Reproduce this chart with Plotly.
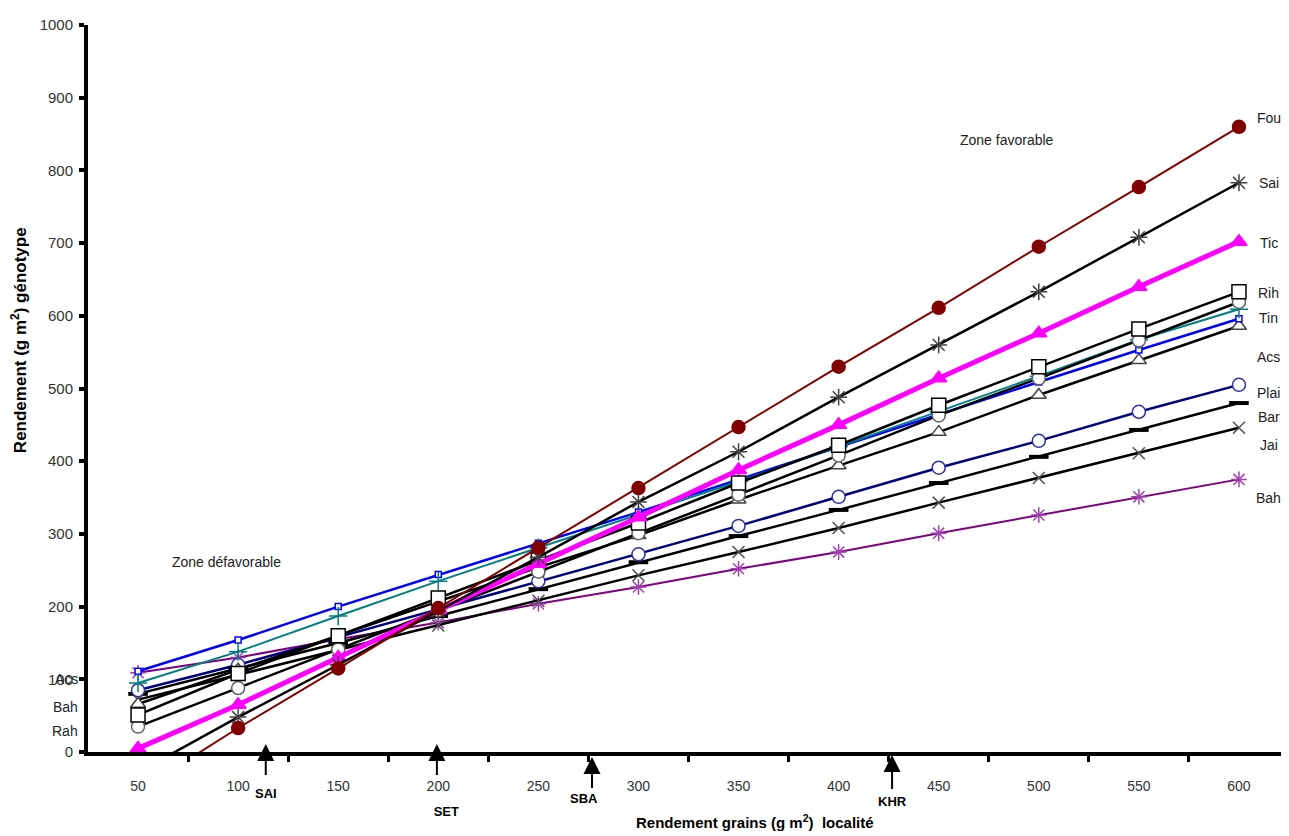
import plotly.graph_objects as go

# ---------------- data ----------------
x_localite = [50, 100, 150, 200, 250, 300, 350, 400, 450, 500, 550, 600]

fou = [-54, 33, 115, 198, 281, 363, 447, 530, 611, 695, 777, 860]
sai = [-28, 48, 120, 194, 268, 344, 413, 488, 560, 633, 708, 783]
tic = [5, 65, 130, 195, 259, 323, 388, 450, 514, 576, 640, 702]
rih = [51, 108, 160, 212, 264, 315, 370, 422, 477, 530, 582, 633]
rah = [35, 88, 141, 195, 248, 301, 354, 408, 463, 514, 566, 619]
tin = [95, 138, 187, 235, 281, 326, 372, 420, 468, 517, 567, 609]
bleu = [111, 154, 200, 244, 287, 330, 375, 420, 465, 509, 553, 596]
acs = [66, 113, 160, 207, 254, 298, 347, 394, 440, 491, 539, 586]
plai = [85, 120, 158, 196, 235, 272, 311, 351, 391, 428, 468, 505]
bar = [80, 115, 150, 187, 224, 261, 297, 333, 370, 406, 443, 480]
jai = [72, 106, 140, 174, 208, 243, 275, 308, 343, 377, 411, 446]
bah = [109, 130, 155, 178, 204, 227, 252, 275, 301, 326, 351, 375]

x_ticks = [50, 100, 150, 200, 250, 300, 350, 400, 450, 500, 550, 600]
y_ticks = [0, 100, 200, 300, 400, 500, 600, 700, 800, 900, 1000]

right_labels = ["Fou", "Sai", "Tic", "Rih", "Tin", "Acs", "Plai", "Bar", "Jai", "Bah"]
right_label_y = [872, 783, 700, 631, 597, 543, 494, 461, 422, 349]
left_labels = ["Acs", "Bah", "Rah"]
left_label_y = [100, 62, 29]

sites = ["SAI", "SET", "SBA", "KHR"]
site_x = [113.8, 199.3, 276.8, 426.7]

FONT = "Liberation Sans, Arial, sans-serif"

fig = go.Figure()

def add(y, name, lc, lw, sym, msize, mcolor, mfill, mlw=1.5):
    fig.add_trace(go.Scatter(
        x=x_localite, y=y, name=name, mode="lines+markers",
        line=dict(color=lc, width=lw),
        marker=dict(symbol=sym, size=msize, color=mfill,
                    line=dict(color=mcolor, width=mlw)),
        showlegend=False, hoverinfo="x+y+name"))

add(bah, "Bah", "#800080", 2, "asterisk-open", 13, "#A040B0", "#A040B0")
add(jai, "Jai", "#000000", 2.5, "x-thin-open", 12, "#505050", "#505050")
add(bar, "Bar", "#000000", 2.5, "line-ew-open", 14, "#000000", "#000000", 4)
add(plai, "Plai", "#000080", 2.5, "circle", 13, "#3030A0", "#FFFFFF")
add(acs, "Acs", "#000000", 2.5, "triangle-up", 13, "#404040", "#FFFFFF")
add(bleu, "Bleu", "#0000FF", 2.5, "square", 6, "#0000FF", "#FFFFFF")
add(tin, "Tin", "#008080", 2, "cross-thin-open", 13, "#008080", "#008080")
add(rah, "Rah", "#000000", 2.5, "circle", 13, "#606060", "#FFFFFF")
add(rih, "Rih", "#000000", 2.5, "square", 14, "#000000", "#FFFFFF")
add(tic, "Tic", "#FF00FF", 5, "triangle-up", 14, "#FF00FF", "#FF00FF")
add(sai, "Sai", "#000000", 2.5, "asterisk-open", 14, "#404040", "#404040")
add(fou, "Fou", "#800000", 2, "circle", 13, "#800000", "#800000")

ann = []
for lab, yy in zip(right_labels, right_label_y):
    ann.append(dict(x=615, y=yy, xref="x", yref="y", text=lab, showarrow=False,
                    font=dict(family=FONT, size=14, color="#222222"),
                    xanchor="center", yanchor="middle"))
for lab, yy in zip(left_labels, left_label_y):
    ann.append(dict(x=-0.0067, y=yy / 1000.0, xref="paper", yref="paper", text=lab,
                    showarrow=False, font=dict(family=FONT, size=14, color="#222222"),
                    xanchor="right", yanchor="middle"))

# site labels with upward arrows pointing at the x axis
tip_y = [0.011, 0.011, -0.0069, -0.0041]
lab_dy = [49, 67, 41, 47]
start_off = [9, 27, 1, 4]
box_w = [None, 44, 44, None]
box_align = ["center", "right", "left", "center"]
for s, sx, ty, dy, so, bw, al in zip(sites, site_x, tip_y, lab_dy, start_off, box_w, box_align):
    d = dict(x=sx, y=ty, xref="x", yref="paper", text=s, showarrow=True,
             ax=0, ay=dy, arrowhead=2, arrowsize=1.7, arrowwidth=2,
             arrowcolor="#000000", standoff=0, startstandoff=so, align=al,
             font=dict(family=FONT, size=13, color="#000000", weight="bold"))
    if bw:
        d["width"] = bw
    ann.append(d)

ann.append(dict(x=484, y=842, xref="x", yref="y", text="Zone favorable", showarrow=False,
                font=dict(family=FONT, size=14, color="#222222")))
ann.append(dict(x=94.4, y=261, xref="x", yref="y", text="Zone défavorable", showarrow=False,
                font=dict(family=FONT, size=14, color="#222222")))

ann.append(dict(x=-0.058, y=0.567, xref="paper", yref="paper",
                text="Rendement (g m<sup>2</sup>) génotype", showarrow=False, textangle=-90,
                font=dict(family=FONT, size=17, color="#000000", weight="bold"),
                xanchor="center", yanchor="middle"))
ann.append(dict(x=0.555, y=-0.096, xref="paper", yref="paper",
                text="Rendement grains (g m<sup>2</sup>)  localité", showarrow=False,
                font=dict(family=FONT, size=15, color="#000000", weight="bold"),
                xanchor="center", yanchor="middle"))

fig.update_layout(
    width=1281, height=828,
    margin=dict(l=80, r=0, t=17, b=84),
    paper_bgcolor="white", plot_bgcolor="white",
    annotations=ann,
    xaxis=dict(range=[25, 625], tickvals=x_ticks, ticktext=[str(v) for v in x_ticks],
               ticks="", showgrid=False, zeroline=False,
               showline=True, linecolor="#000000", linewidth=4,
               tickfont=dict(family=FONT, size=14, color="#333333"),
               ticklabelstandoff=18,
               minor=dict(tickvals=[75, 125, 175, 225, 275, 325, 375, 425, 475, 525, 575],
                          ticks="outside", ticklen=6, tickwidth=3, tickcolor="#000000",
                          showgrid=False)),
    yaxis=dict(range=[0, 1000], tickvals=y_ticks, ticks="outside", ticklen=5, tickwidth=4,
               tickcolor="#000000", showgrid=False, zeroline=False,
               showline=True, linecolor="#000000", linewidth=4,
               tickfont=dict(family=FONT, size=15, color="#333333"),
               ticklabelstandoff=3),
)

fig.write_html("out.html")
